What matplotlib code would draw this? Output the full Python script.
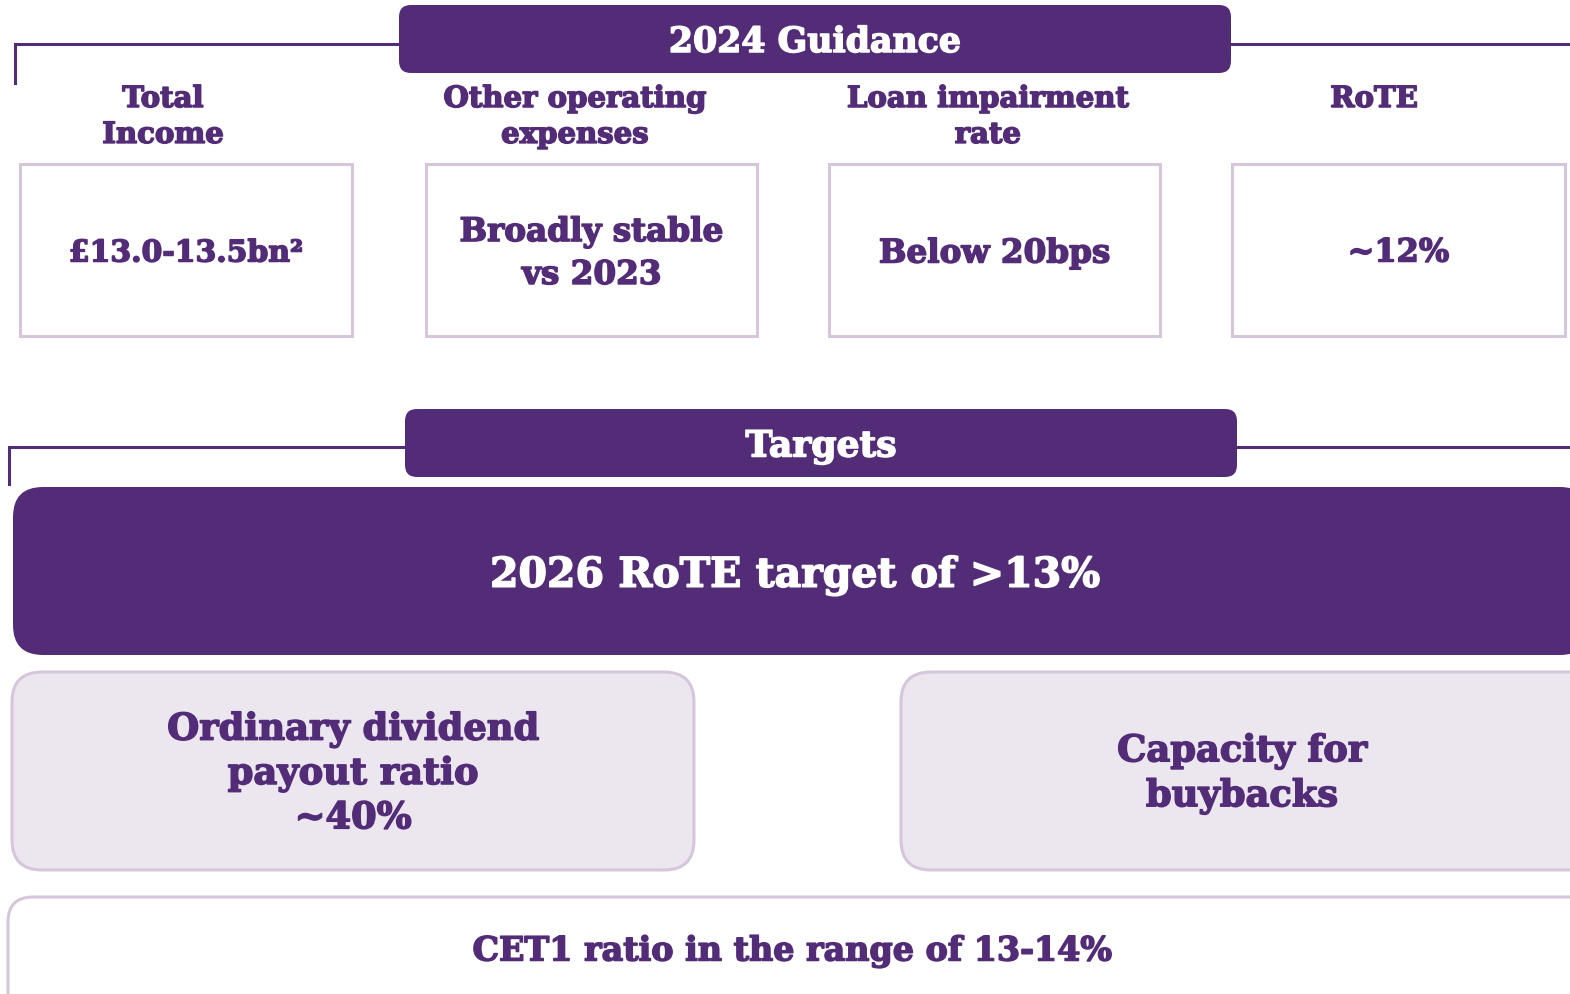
import matplotlib
matplotlib.use("Agg")
import matplotlib.pyplot as plt
from matplotlib.patches import FancyBboxPatch, Rectangle
import matplotlib.patheffects as pe

# colours
dark = "#532c78"
light_edge = "#d6c6dc"
light_fill = "#ece6ef"

# texts
guidance_title = "2024 Guidance"
guidance_headers = ["Total\nIncome", "Other operating\nexpenses", "Loan impairment\nrate", "RoTE"]
guidance_values = ["£13.0-13.5bn²", "Broadly stable\nvs 2023", "Below 20bps", "~12%"]
targets_title = "Targets"
rote_target = "2026 RoTE target of >13%"
dividend_text = "Ordinary dividend\npayout ratio\n~40%"
buyback_text = "Capacity for\nbuybacks"
cet1_text = "CET1 ratio in the range of 13-14%"

W, H = 1570, 995
fig = plt.figure(figsize=(W / 100, H / 100), dpi=100)
ax = fig.add_axes([0, 0, 1, 1])
ax.set_xlim(0, W)
ax.set_ylim(H, 0)
ax.axis("off")


def txt(x, y, s, color, size, ls=1.2, va="center"):
    # thicker strokes to get closer to the heavy slab face
    ax.text(x, y, s, color=color, fontsize=size, ha="center", va=va, linespacing=ls,
            family="DejaVu Serif", weight="bold", zorder=3,
            path_effects=[pe.withStroke(linewidth=1.1, foreground=color)])


def rbox(x0, y0, x1, y1, r, fc, ec, lw=0, z=2):
    if r > 0:
        p = FancyBboxPatch((x0, y0), x1 - x0, y1 - y0,
                           boxstyle=f"round,pad=0,rounding_size={r}",
                           fc=fc, ec=ec, lw=lw, zorder=z)
    else:
        p = Rectangle((x0, y0), x1 - x0, y1 - y0, fc=fc, ec=ec, lw=lw, zorder=z)
    ax.add_patch(p)


# guidance section
ax.plot([15, 15, W], [84, 45, 45], color=dark, lw=2.2, zorder=1, solid_joinstyle="miter")
rbox(399, 6, 1231, 74, 12, dark, "none")
txt(815, 43, guidance_title, "white", 25)

hdr_x = [163, 575, 988, 1374]
box_x = [(20, 352), (426, 757), (829, 1160), (1232, 1565)]
val_size = [21.5, 23.5, 23.5, 23]
for i in range(4):
    txt(hdr_x[i], 85, guidance_headers[i], dark, 21, ls=1.3, va="top")
    x0, x1 = box_x[i]
    rbox(x0, 165, x1, 337, 0, "white", light_edge, lw=2.2)
    txt((x0 + x1) / 2, 254, guidance_values[i], dark, val_size[i], ls=1.38)

# targets section
ax.plot([9, 9, W], [485, 448, 448], color=dark, lw=2.2, zorder=1, solid_joinstyle="miter")
rbox(405, 410, 1237, 478, 12, dark, "none")
txt(821, 448, targets_title, "white", 26)

rbox(13, 488, 1590, 656, 30, dark, "none")
txt(795, 577, rote_target, "white", 29.5)

rbox(12, 673, 694, 871, 30, light_fill, light_edge, lw=2.2)
txt(353, 775, dividend_text, dark, 26.5, ls=1.28)
rbox(901, 673, 1600, 871, 30, light_fill, light_edge, lw=2.2)
txt(1242, 775, buyback_text, dark, 26.5, ls=1.3)

rbox(8, 898, 1600, 1030, 25, "white", light_edge, lw=2.2)
txt(793, 952, cet1_text, dark, 24)

fig.savefig("out.png", dpi=100)
